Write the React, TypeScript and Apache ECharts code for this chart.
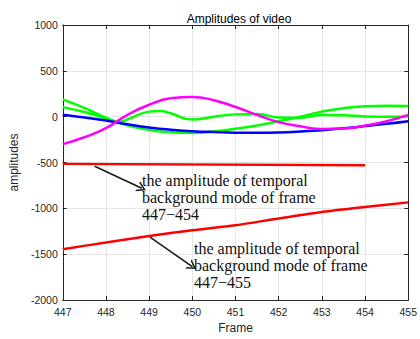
import React, { useEffect, useRef } from "react";
import * as echarts from "echarts";

const frames = [447, 447.5, 448, 448.5, 449, 449.5, 450, 450.5, 451, 451.5, 452, 452.5, 453, 453.5, 454, 454.5, 455];
const magenta = [-300, -225, -125, 20, 130, 200, 215, 180, 105, 20, -60, -105, -135, -130, -98, -50, 20];
const greenA = [188, 95, -10, -95, -145, -170, -178, -162, -133, -96, -51, 0, 55, 93, 114, 120, 116];
const blue = [20, -10, -42, -82, -117, -142, -158, -168, -175, -176, -173, -163, -147, -127, -103, -78, -49];
const greenBFrames = [447, 447.5, 448, 448.25, 448.5, 449, 449.25, 449.5, 450, 450.5, 451, 451.5, 452, 452.5, 453, 453.5, 454, 454.5, 455];
const greenB = [104, 50, -20, -62, -30, 55, 62, 37, -32, 0, 25, 30, -8, -12, 18, 15, 3, 0, 2];
const red454Frames = [447, 454];
const red454 = [-515, -530];
const red455Frames = [447, 448, 449, 450, 451, 452, 453, 454, 455];
const red455 = [-1447, -1372, -1302, -1240, -1185, -1110, -1040, -985, -935];
const yTicks = [-2000, -1500, -1000, -500, 0, 500, 1000];

const arrows = [
  [[447.74, -542], [448.83, -781]],
  [[449.02, -1315], [450.0, -1635]],
];
const note1 = "the amplitude of temporal\nbackground mode of frame\n447\u2212454";
const note2 = "the amplitude of temporal\nbackground mode of frame\n447\u2212455";

const pairs = (xs: number[], ys: number[]) => xs.map((x, i) => [x, ys[i]]);

export default function App() {
  const ref = useRef<HTMLDivElement>(null);
  useEffect(() => {
    if (!ref.current) return;
    const chart = echarts.init(ref.current, null, { renderer: "svg" });
    const axisColor = "#262626";
    const labelStyle = { color: "#262626", fontSize: 10.5, fontFamily: "Liberation Sans, Arial, sans-serif" };
    const line = (data: number[][], color: string, smooth: boolean | number = true) => ({
      type: "line",
      data,
      smooth,
      showSymbol: false,
      symbol: "none",
      lineStyle: { color, width: 2.5 },
      itemStyle: { color },
      z: 3,
    });
    const boxLine = { show: true, onZero: false, lineStyle: { color: axisColor, width: 1 } };
    chart.setOption({
      animation: false,
      backgroundColor: "#ffffff",
      title: {
        text: "Amplitudes of video",
        left: 234,
        top: 8,
        textAlign: "center",
        textStyle: { fontSize: 12, fontWeight: "normal", color: "#000", fontFamily: "Liberation Sans, Arial, sans-serif" },
      },
      grid: { left: 57, right: 8.5, top: 25, bottom: 33 },
      xAxis: [
        {
          type: "value",
          min: 447,
          max: 455,
          interval: 1,
          name: "Frame",
          nameLocation: "middle",
          nameGap: 22,
          nameTextStyle: { fontSize: 12, color: "#262626", fontFamily: "Liberation Sans, Arial, sans-serif" },
          axisLine: boxLine,
          axisTick: { show: true, inside: true, length: 4, lineStyle: { color: axisColor } },
          axisLabel: { ...labelStyle, margin: 6 },
          splitLine: { show: true, lineStyle: { color: "#e6e6e6", width: 1 } },
        },
        {
          type: "value",
          position: "top",
          min: 447,
          max: 455,
          interval: 1,
          axisLine: boxLine,
          axisTick: { show: true, inside: true, length: 4, lineStyle: { color: axisColor } },
          axisLabel: { show: false },
          splitLine: { show: false },
        },
      ],
      yAxis: [
        {
          type: "value",
          min: yTicks[0],
          max: yTicks[yTicks.length - 1],
          interval: 500,
          name: "amplitudes",
          nameLocation: "middle",
          nameGap: 36,
          nameTextStyle: { fontSize: 12, color: "#262626", fontFamily: "Liberation Sans, Arial, sans-serif" },
          axisLine: boxLine,
          axisTick: { show: true, inside: true, length: 4, lineStyle: { color: axisColor } },
          axisLabel: { ...labelStyle, margin: 5, formatter: (v: number) => String(v) },
          splitLine: { show: true, lineStyle: { color: "#e6e6e6", width: 1 } },
        },
        {
          type: "value",
          position: "right",
          min: yTicks[0],
          max: yTicks[yTicks.length - 1],
          interval: 500,
          axisLine: boxLine,
          axisTick: { show: true, inside: true, length: 4, lineStyle: { color: axisColor } },
          axisLabel: { show: false },
          splitLine: { show: false },
        },
      ],
      series: [
        line(pairs(frames, greenA), "#00ff00"),
        line(pairs(greenBFrames, greenB), "#00ff00"),
        line(pairs(frames, blue), "#0000ff"),
        line(pairs(frames, magenta), "#ff00ff"),
        line(pairs(red454Frames, red454), "#ff0000", false),
        {
          ...line(pairs(red455Frames, red455), "#ff0000", 0.3),
          markLine: {
            silent: true,
            symbol: ["none", "path://M0,10 L5,0 L10,10 L8.4,10 L5,3.2 L1.6,10 Z"],
            symbolSize: [11, 9],
            label: { show: false },
            lineStyle: { color: "#1a1a1a", width: 1.6, type: "solid" },
            data: arrows.map((a) => [{ coord: a[0] }, { coord: a[1] }]),
          },
        },
      ],
      graphic: [
        {
          type: "text",
          left: 142,
          top: 171.5,
          style: {
            text: note1,
            fontSize: 16,
            lineHeight: 17,
            fill: "#111",
            fontFamily: "Liberation Serif, Times New Roman, serif",
          },
          z: 10,
        },
        {
          type: "text",
          left: 194,
          top: 239.5,
          style: {
            text: note2,
            fontSize: 16,
            lineHeight: 17,
            fill: "#111",
            fontFamily: "Liberation Serif, Times New Roman, serif",
          },
          z: 10,
        },
      ],
    });
    return () => chart.dispose();
  }, []);
  return <div ref={ref} style={{ position: "fixed", left: 0, top: 0, width: 420, height: 339 }} />;
}
